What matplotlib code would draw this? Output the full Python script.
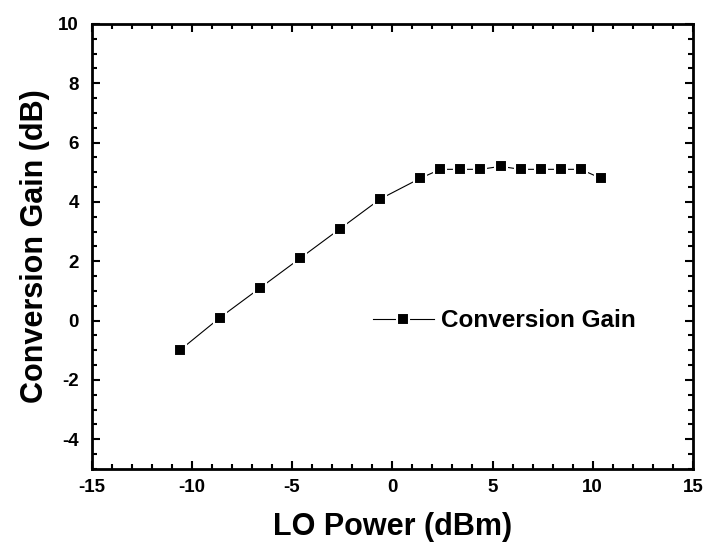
import numpy as np
import matplotlib
matplotlib.use("Agg")
import matplotlib.pyplot as plt
from matplotlib import ticker
from matplotlib.font_manager import FontProperties

# data
lo_power = [-10.6, -8.6, -6.6, -4.6, -2.6, -0.6, 1.4, 2.4, 3.4, 4.4, 5.4, 6.4, 7.4, 8.4, 9.4, 10.4]
conv_gain = [-1.0, 0.1, 1.1, 2.1, 3.1, 4.1, 4.8, 5.1, 5.1, 5.1, 5.2, 5.1, 5.1, 5.1, 5.1, 4.8]
series_name = "Conversion Gain"
x_label = "LO Power (dBm)"
y_label = "Conversion Gain (dB)"

plt.rcParams['font.family'] = ['Liberation Sans', 'DejaVu Sans']
plt.rcParams['font.weight'] = 'bold'
plt.rcParams['axes.unicode_minus'] = False

bold = lambda s: FontProperties(family='Liberation Sans', weight='bold', size=s)

fig = plt.figure(figsize=(7.1, 5.57), dpi=100)
ax = fig.add_axes([0.129, 0.158, 0.847, 0.799])

# white marker edge gives the small gap between line and square, like the original
ax.plot(lo_power, conv_gain, color='black', lw=0.8, marker='s', ms=8,
        markerfacecolor='black', markeredgecolor='white', markeredgewidth=1.5,
        label=series_name)

ax.set_xlim(-15, 15)
ax.set_ylim(-5, 10)
ax.xaxis.set_major_locator(ticker.MultipleLocator(5))
ax.xaxis.set_minor_locator(ticker.MultipleLocator(1))
ax.yaxis.set_major_locator(ticker.MultipleLocator(2))
ax.yaxis.set_minor_locator(ticker.MultipleLocator(0.5))

ax.tick_params(which='both', direction='in', top=True, right=True, width=1.5)
ax.tick_params(which='major', length=6)
ax.tick_params(axis='y', which='major', pad=9)
ax.tick_params(axis='x', which='major', pad=7)
ax.tick_params(which='minor', length=3.5)
for lbl in ax.get_xticklabels() + ax.get_yticklabels():
    lbl.set_fontproperties(bold(13.5))

for sp in ax.spines.values():
    sp.set_linewidth(2)

ax.set_xlabel(x_label, fontproperties=bold(22), labelpad=12)
ax.set_ylabel(y_label, fontproperties=bold(22), labelpad=6)

leg = ax.legend(loc='center left', bbox_to_anchor=(0.468, 0.333), frameon=False,
                prop=bold(17.5), handlelength=2.5,
                handletextpad=0.3, borderpad=0, borderaxespad=0, numpoints=1)

fig.savefig('out.png', dpi=100)
